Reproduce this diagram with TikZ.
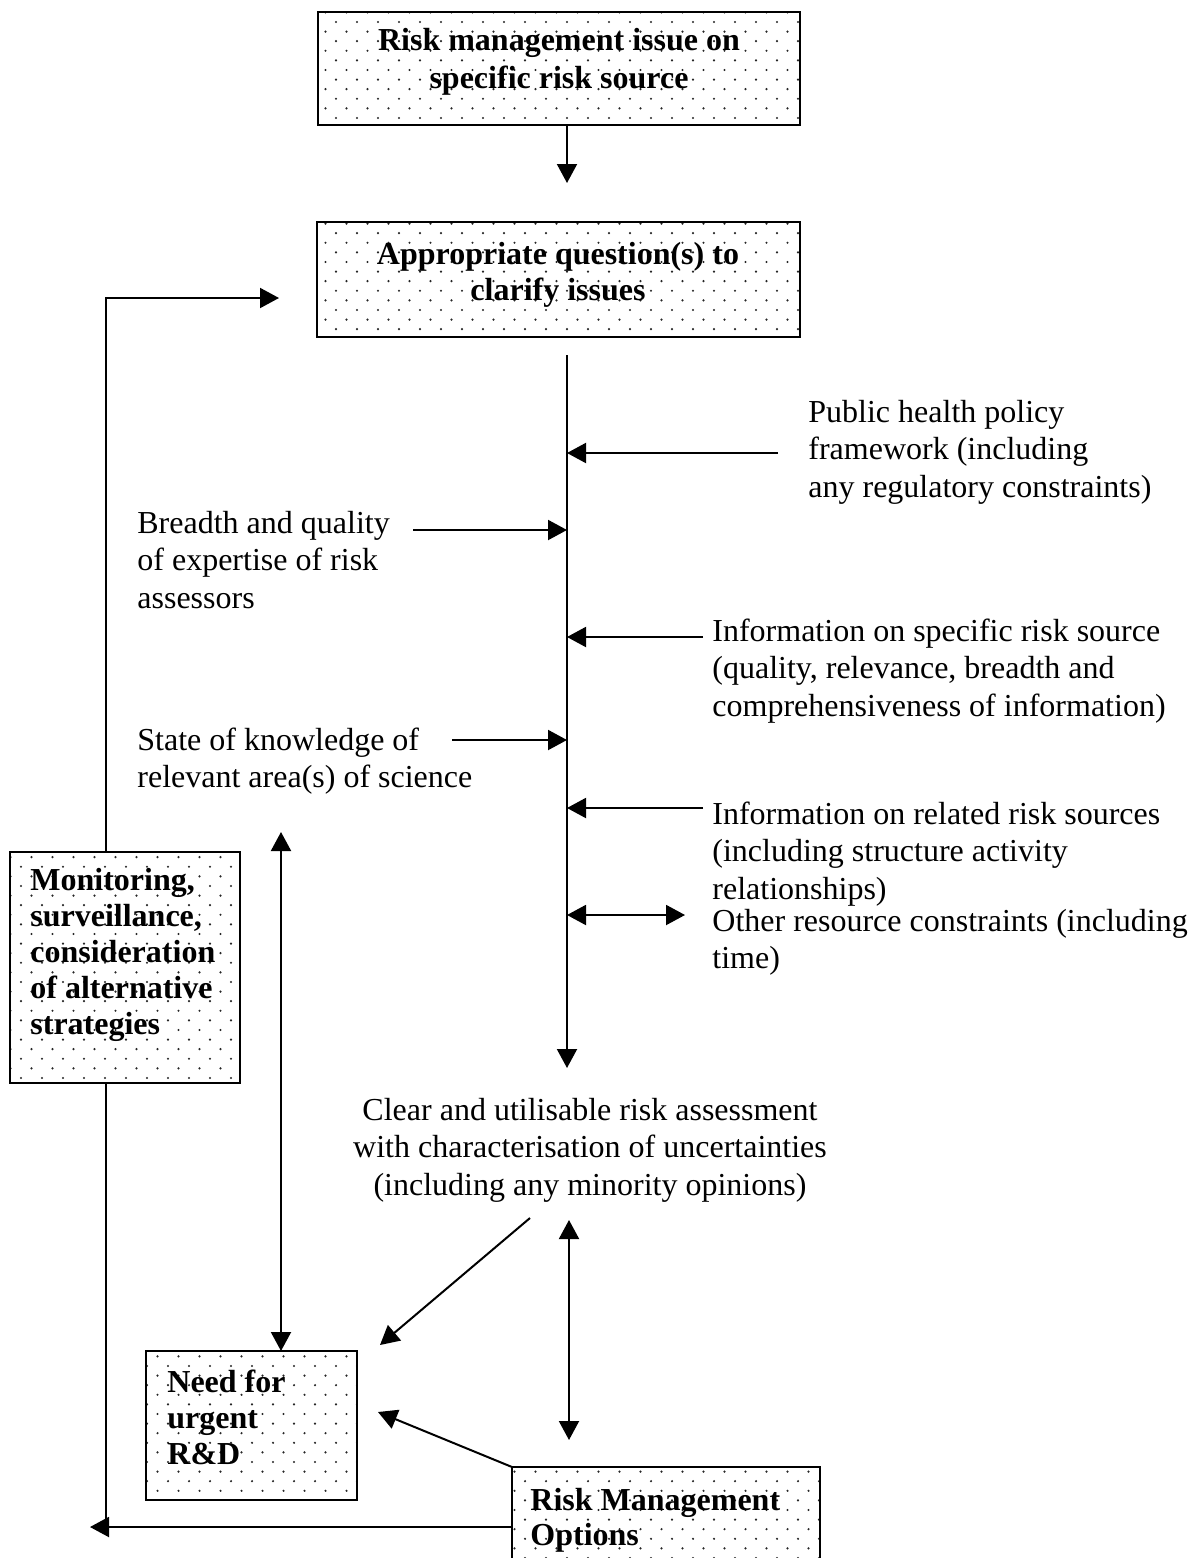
\documentclass[tikz,border=0pt]{standalone}
\usepackage{fontspec}
\setmainfont{Liberation Serif}
\usetikzlibrary{arrows.meta,patterns}

% staggered dot screen used inside the shaded boxes
\pgfdeclarepatternformonly{sparsedots}{\pgfqpoint{-1pt}{-1pt}}{\pgfqpoint{11.5pt}{10.6pt}}{\pgfqpoint{10.5pt}{9.6pt}}{%
  \pgfpathcircle{\pgfqpoint{0pt}{0pt}}{0.6pt}%
  \pgfpathcircle{\pgfqpoint{5.25pt}{4.8pt}}{0.6pt}%
  \pgfusepath{fill}%
}

% multi-line nodes are placed by the baseline of their last line
\tikzset{
  boxframe/.style={draw, line width=1pt, pattern=sparsedots, pattern color=black!85,
    inner sep=0pt, outer sep=0pt, anchor=north west},
  plaintext/.style={inner sep=0pt, anchor=base west, align=left,
    font=\fontsize{16pt}{18.75pt}\selectfont},
  boldtext/.style={inner sep=0pt, anchor=base west, align=left,
    font=\fontsize{16pt}{18pt}\selectfont\bfseries},
  link/.style={line width=1pt, -{Triangle[length=9.5pt,width=10pt]}},
  twoway/.style={line width=1pt, {Triangle[length=9.5pt,width=10pt]}-{Triangle[length=9.5pt,width=10pt]}},
  plainline/.style={line width=1pt},
}

\begin{document}
\begin{tikzpicture}[x=0.5pt,y=-0.5pt]
\clip (0,0) rectangle (1199,1558);
\fill[white] (0,0) rectangle (1199,1558);

% ---- shaded boxes ----
\node[boxframe, minimum width=241pt, minimum height=56.5pt] (issue) at (318,12) {};
\node[boldtext, anchor=base, align=center, font=\fontsize{16pt}{19pt}\selectfont\bfseries] (issuetxt) at (559,88)
  {Risk management issue on\\specific risk source};

\node[boxframe, minimum width=241.5pt, minimum height=57.5pt] (question) at (317,222) {};
\node[boldtext, anchor=base, align=center, font=\fontsize{16pt}{18pt}\selectfont\bfseries] (questiontxt) at (558,300)
  {Appropriate question(s) to\\clarify issues};

\node[boxframe, minimum width=115pt, minimum height=115.5pt] (monitor) at (10,852) {};
\node[boldtext] (monitortxt) at (30,1034)
  {Monitoring,\\surveillance,\\consideration\\of alternative\\strategies};

\node[boxframe, minimum width=105.5pt, minimum height=74.5pt] (need) at (146,1351) {};
\node[boldtext] (needtxt) at (167,1464) {Need for\\urgent\\R\&D};

\node[boxframe, minimum width=154pt, minimum height=60pt] (rmo) at (512,1467) {};
\node[boldtext, font=\fontsize{16pt}{17.5pt}\selectfont\bfseries] (rmotxt) at (530,1545)
  {Risk Management\\Options};

% ---- plain labels ----
\node[plaintext] (public) at (808,497)
  {Public health policy\\framework (including\\any regulatory constraints)};
\node[plaintext] (breadth) at (137,608)
  {Breadth and quality\\of expertise of risk\\assessors};
\node[plaintext] (infospec) at (712,716)
  {Information on specific risk source\\(quality, relevance, breadth and\\comprehensiveness of information)};
\node[plaintext] (state) at (137,787.5)
  {State of knowledge of\\relevant area(s) of science};
\node[plaintext] (inforel) at (712,899)
  {Information on related risk sources\\(including structure activity\\relationships)};
\node[plaintext] (other) at (712,968.5)
  {Other resource constraints (including\\time)};
\node[plaintext, anchor=base, align=center] (result) at (590,1195)
  {Clear and utilisable risk assessment\\with characterisation of uncertainties\\(including any minority opinions)};

% ---- connector end points ----
\coordinate (stepdown) at (567,183);
\coordinate (spinetop) at (567,355);
\coordinate (spinebot) at (567,1068);
\coordinate (pubtail) at (778,453);
\coordinate (breadthtail) at (413,530);
\coordinate (infospectail) at (703,637);
\coordinate (statetail) at (452,740);
\coordinate (inforeltail) at (703,808);
\coordinate (othertip) at (685,915);
\coordinate (fbx) at (106,0);
\coordinate (fbtip) at (279,298);
\coordinate (scitop) at (281,832);
\coordinate (resultfoot) at (530,1218);
\coordinate (needtipA) at (380,1345);
\coordinate (needtipB) at (378,1412);
\coordinate (rmoup) at (569,1220);
\coordinate (rmodown) at (569,1440);
\coordinate (loopend) at (90,1527);

% ---- connectors ----
\draw[link] (issue.south -| stepdown) -- (stepdown);
\draw[link] (spinetop) -- (spinebot);

\draw[link] (pubtail) -- (pubtail -| spinetop);
\draw[link] (breadthtail) -- (breadthtail -| spinetop);
\draw[link] (infospectail) -- (infospectail -| spinetop);
\draw[link] (statetail) -- (statetail -| spinetop);
\draw[link] (inforeltail) -- (inforeltail -| spinetop);
\draw[twoway] (othertip -| spinetop) -- (othertip);

% feedback loop round the left side
\draw[link] (monitor.north -| fbx) |- (fbtip);
\draw[plainline] (monitor.south -| fbx) -- (fbx |- loopend);
\draw[link] (rmo.north west |- loopend) -- (loopend);

\draw[twoway] (scitop) -- (scitop |- need.north);
\draw[link] (resultfoot) -- (needtipA);
\draw[link] (rmo.north west) -- (needtipB);
\draw[twoway] (rmoup) -- (rmodown);
\end{tikzpicture}
\end{document}
